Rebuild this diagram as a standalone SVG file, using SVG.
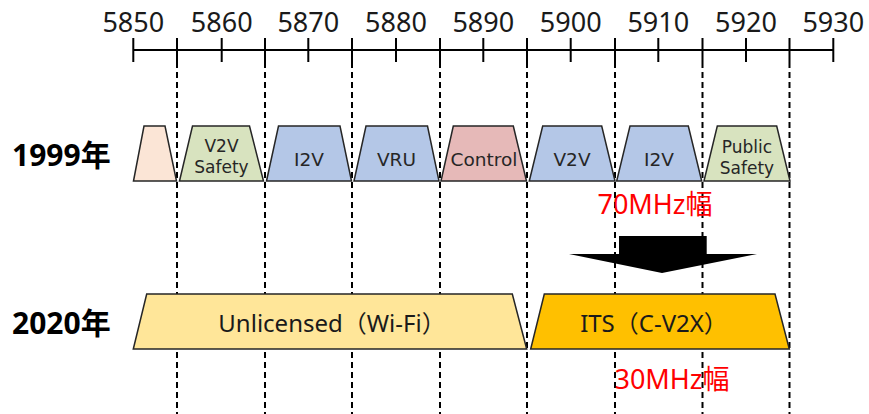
<svg xmlns="http://www.w3.org/2000/svg" width="869" height="414" viewBox="0 0 869 414">
<style>
.ax{stroke:#000;stroke-width:2;fill:none}
.dash{stroke:#000;stroke-width:2;stroke-dasharray:6 4;fill:none}
.tz{stroke:#262626;stroke-width:1.5;stroke-linejoin:miter}
.num{font-family:"Noto Sans","DejaVu Sans",sans-serif;font-size:27px;fill:#1a1a1a;text-anchor:middle}
.lb{font-family:"DejaVu Sans","Noto Sans CJK JP",sans-serif;font-size:18.5px;fill:#262626;text-anchor:middle}
.lb2{font-family:"DejaVu Sans","Noto Sans CJK JP",sans-serif;font-size:17px;fill:#262626;text-anchor:middle}
.big{font-family:"Noto Sans","Noto Sans CJK JP",sans-serif;font-size:24px;fill:#1a1a1a;text-anchor:middle}
.yr{font-family:"Noto Sans","Noto Sans CJK JP",sans-serif;font-size:30px;font-weight:bold;fill:#000}
.red{font-family:"Noto Sans","Noto Sans CJK JP",sans-serif;font-size:27px;fill:#ff0000;text-anchor:middle}
.blue{fill:#b4c7e7}
.green{fill:#d8e3bf}
</style>
<g id="axis">
<line class="ax" x1="133.3" y1="50" x2="834" y2="50"/>
<path class="ax" d="M133.3 38V62M177 38V62M221.7 38V62M265 38V62M308.3 38V62M352 38V62M396 38V62M440 38V62M483.3 38V62M527 38V62M570.7 38V62M615 38V62M658.3 38V62M702.5 38V62M746 38V62M789.5 38V62M833.3 38V62"/>
<text class="num" x="133.3" y="32">5850</text>
<text class="num" x="221.7" y="32">5860</text>
<text class="num" x="308.3" y="32">5870</text>
<text class="num" x="396" y="32">5880</text>
<text class="num" x="483.3" y="32">5890</text>
<text class="num" x="570.7" y="32">5900</text>
<text class="num" x="658.3" y="32">5910</text>
<text class="num" x="746" y="32">5920</text>
<text class="num" x="833.3" y="32">5930</text>
</g>
<g id="gridlines">
<path class="dash" d="M177 62V414M265 62V414M352 62V414M440 62V414M527 62V414M615 62V414M702.5 62V414M789.5 62V414"/>
</g>
<g id="year1999"><text class="yr" x="12" y="166">1999年</text></g>
<g id="year2020"><text class="yr" x="12" y="334">2020年</text></g>
<g id="ch-reserved"><polygon class="tz" fill="#fbe5d6" points="133.5,181 144,126 165,126 176.5,181"/></g>
<g id="ch-v2v-safety"><polygon class="tz green" points="179.5,181 192.5,126 249.5,126 263.5,181"/>
<text class="lb2" x="221.5" y="152">V2V</text><text class="lb2" x="221.5" y="173">Safety</text></g>
<g id="ch-i2v-1"><polygon class="tz blue" points="266.5,181 278.5,126 340,126 351.5,181"/>
<text class="lb" x="309" y="166">I2V</text></g>
<g id="ch-vru"><polygon class="tz blue" points="354,181 366,126 427.5,126 439,181"/>
<text class="lb" x="396.5" y="166">VRU</text></g>
<g id="ch-control"><polygon class="tz" fill="#e6b9b8" points="441,181 453.3,126 513.3,126 526.5,181"/>
<text class="lb" x="484" y="166">Control</text></g>
<g id="ch-v2v"><polygon class="tz blue" points="529.3,181 542.7,126 601.7,126 615,181"/>
<text class="lb" x="572" y="166">V2V</text></g>
<g id="ch-i2v-2"><polygon class="tz blue" points="616.7,181 630,126 688.3,126 701.7,181"/>
<text class="lb" x="659" y="166">I2V</text></g>
<g id="ch-public-safety"><polygon class="tz green" points="704,181 717.3,126 776.7,126 790,181"/>
<text class="lb2" x="747" y="153">Public</text><text class="lb2" x="747" y="174">Safety</text></g>
<g id="label-70"><text class="red" x="655" y="214">70MHz幅</text></g>
<g id="connectors">
<polygon fill="#000" points="619,236 706.7,236 706.7,254 757,254 662,273 569,254 619,254"/>
</g>
<g id="unlicensed"><polygon class="tz" fill="#ffe699" points="133.3,349 146.7,294 512.3,294 526.7,349"/>
<text class="big" x="332" y="332">Unlicensed（Wi-Fi）</text></g>
<g id="its"><polygon class="tz" fill="#ffc000" points="530.7,349 544.3,294 775,294 789.3,349"/>
<text class="big" x="654" y="332">ITS（C-V2X）</text></g>
<g id="label-30"><text class="red" x="672" y="389">30MHz幅</text></g>
</svg>
